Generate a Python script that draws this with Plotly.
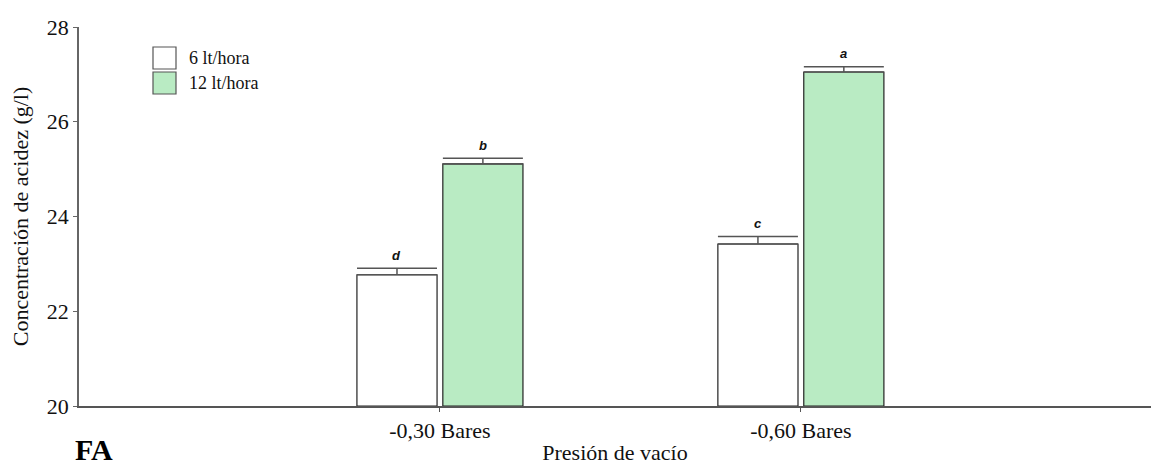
import plotly.graph_objects as go

categories = ["-0,30 Bares", "-0,60 Bares"]
series_names = ["6 lt/hora", "12 lt/hora"]
vals_6 = [22.77, 23.42]
vals_12 = [25.11, 27.05]
err_6 = [0.14, 0.16]
err_12 = [0.12, 0.11]
letters_6 = ["d", "c"]
letters_12 = ["b", "a"]
y_ticks = [20, 22, 24, 26, 28]

FONT = "Liberation Serif, Times New Roman, serif"
W, H = 1151, 465
ML, MR, MT, MB = 79, 0, 27, 59

fig = go.Figure()
bw = 0.222
offs = [-0.230, 0.008]
for name, vals, errs, fill, off in [
    (series_names[0], vals_6, err_6, "#ffffff", offs[0]),
    (series_names[1], vals_12, err_12, "#b9ebc3", offs[1]),
]:
    fig.add_trace(go.Bar(
        x=categories, y=[v - 20 for v in vals], base=20, name=name,
        width=bw, offset=off,
        marker=dict(color=fill, line=dict(color="#222222", width=1.2)),
        error_y=dict(type="data", symmetric=False, array=errs,
                     arrayminus=[0] * len(errs), color="#555555",
                     thickness=1.5, width=40),
        showlegend=False, hoverinfo="skip",
    ))

annotations = []
for letters, vals, errs, off in [(letters_6, vals_6, err_6, offs[0]), (letters_12, vals_12, err_12, offs[1])]:
    for i, (l, v, e) in enumerate(zip(letters, vals, errs)):
        annotations.append(dict(
            x=i + off + bw / 2, y=v + e, xref="x", yref="y", text="<b><i>" + l + "</i></b>",
            showarrow=False, yshift=13, font=dict(family="Liberation Sans, Arial", size=13, color="#111"),
        ))

pw = W - ML - MR
ph = H - MT - MB
def px_x(x):
    return (x - ML) / pw
def px_y(y):
    return 1 - (y - MT) / ph

shapes = []
legend_fill = ["#ffffff", "#b9ebc3"]
for k, (name, fc) in enumerate(zip(series_names, legend_fill)):
    y0 = 47 + k * 25
    shapes.append(dict(type="rect", xref="paper", yref="paper",
                       x0=px_x(153), x1=px_x(176), y0=px_y(y0 + 22), y1=px_y(y0),
                       fillcolor=fc, line=dict(color="#555555", width=1.2)))
    annotations.append(dict(x=px_x(187), y=px_y(y0 + 11), xref="paper", yref="paper",
                            text=name, showarrow=False, xanchor="left", yanchor="middle",
                            font=dict(family=FONT, size=18, color="#111")))

annotations.append(dict(x=px_x(73), y=px_y(449), xref="paper", yref="paper", text="<b>FA</b>",
                        showarrow=False, xanchor="left", yanchor="middle",
                        font=dict(family=FONT, size=30, color="#000")))

fig.update_layout(
    width=W, height=H,
    margin=dict(l=ML, r=MR, t=MT, b=MB),
    plot_bgcolor="white", paper_bgcolor="white",
    font=dict(family=FONT, color="#111"),
    shapes=shapes, annotations=annotations,
    xaxis=dict(type="category", range=[-1, 1.97], showline=True, linecolor="#555555", linewidth=1.5,
               ticks="outside", ticklen=4, tickcolor="#555555", tickfont=dict(size=22, family=FONT),
               showgrid=False, zeroline=False, automargin=False,
               title=dict(text="Presión de vacío", font=dict(size=22, family=FONT), standoff=4)),
    yaxis=dict(range=[20, 28], tickvals=y_ticks, showline=True, linecolor="#666666", linewidth=1.5,
               ticks="outside", ticklen=4, tickcolor="#666666", tickfont=dict(size=22, family=FONT),
               showgrid=False, zeroline=False, automargin=False,
               title=dict(text="Concentración de acidez (g/l)", font=dict(size=22, family=FONT), standoff=12)),
)

fig.write_html("out.html", config={"displayModeBar": False},
               post_script="document.body.style.margin='0';document.body.style.overflow='hidden';")
